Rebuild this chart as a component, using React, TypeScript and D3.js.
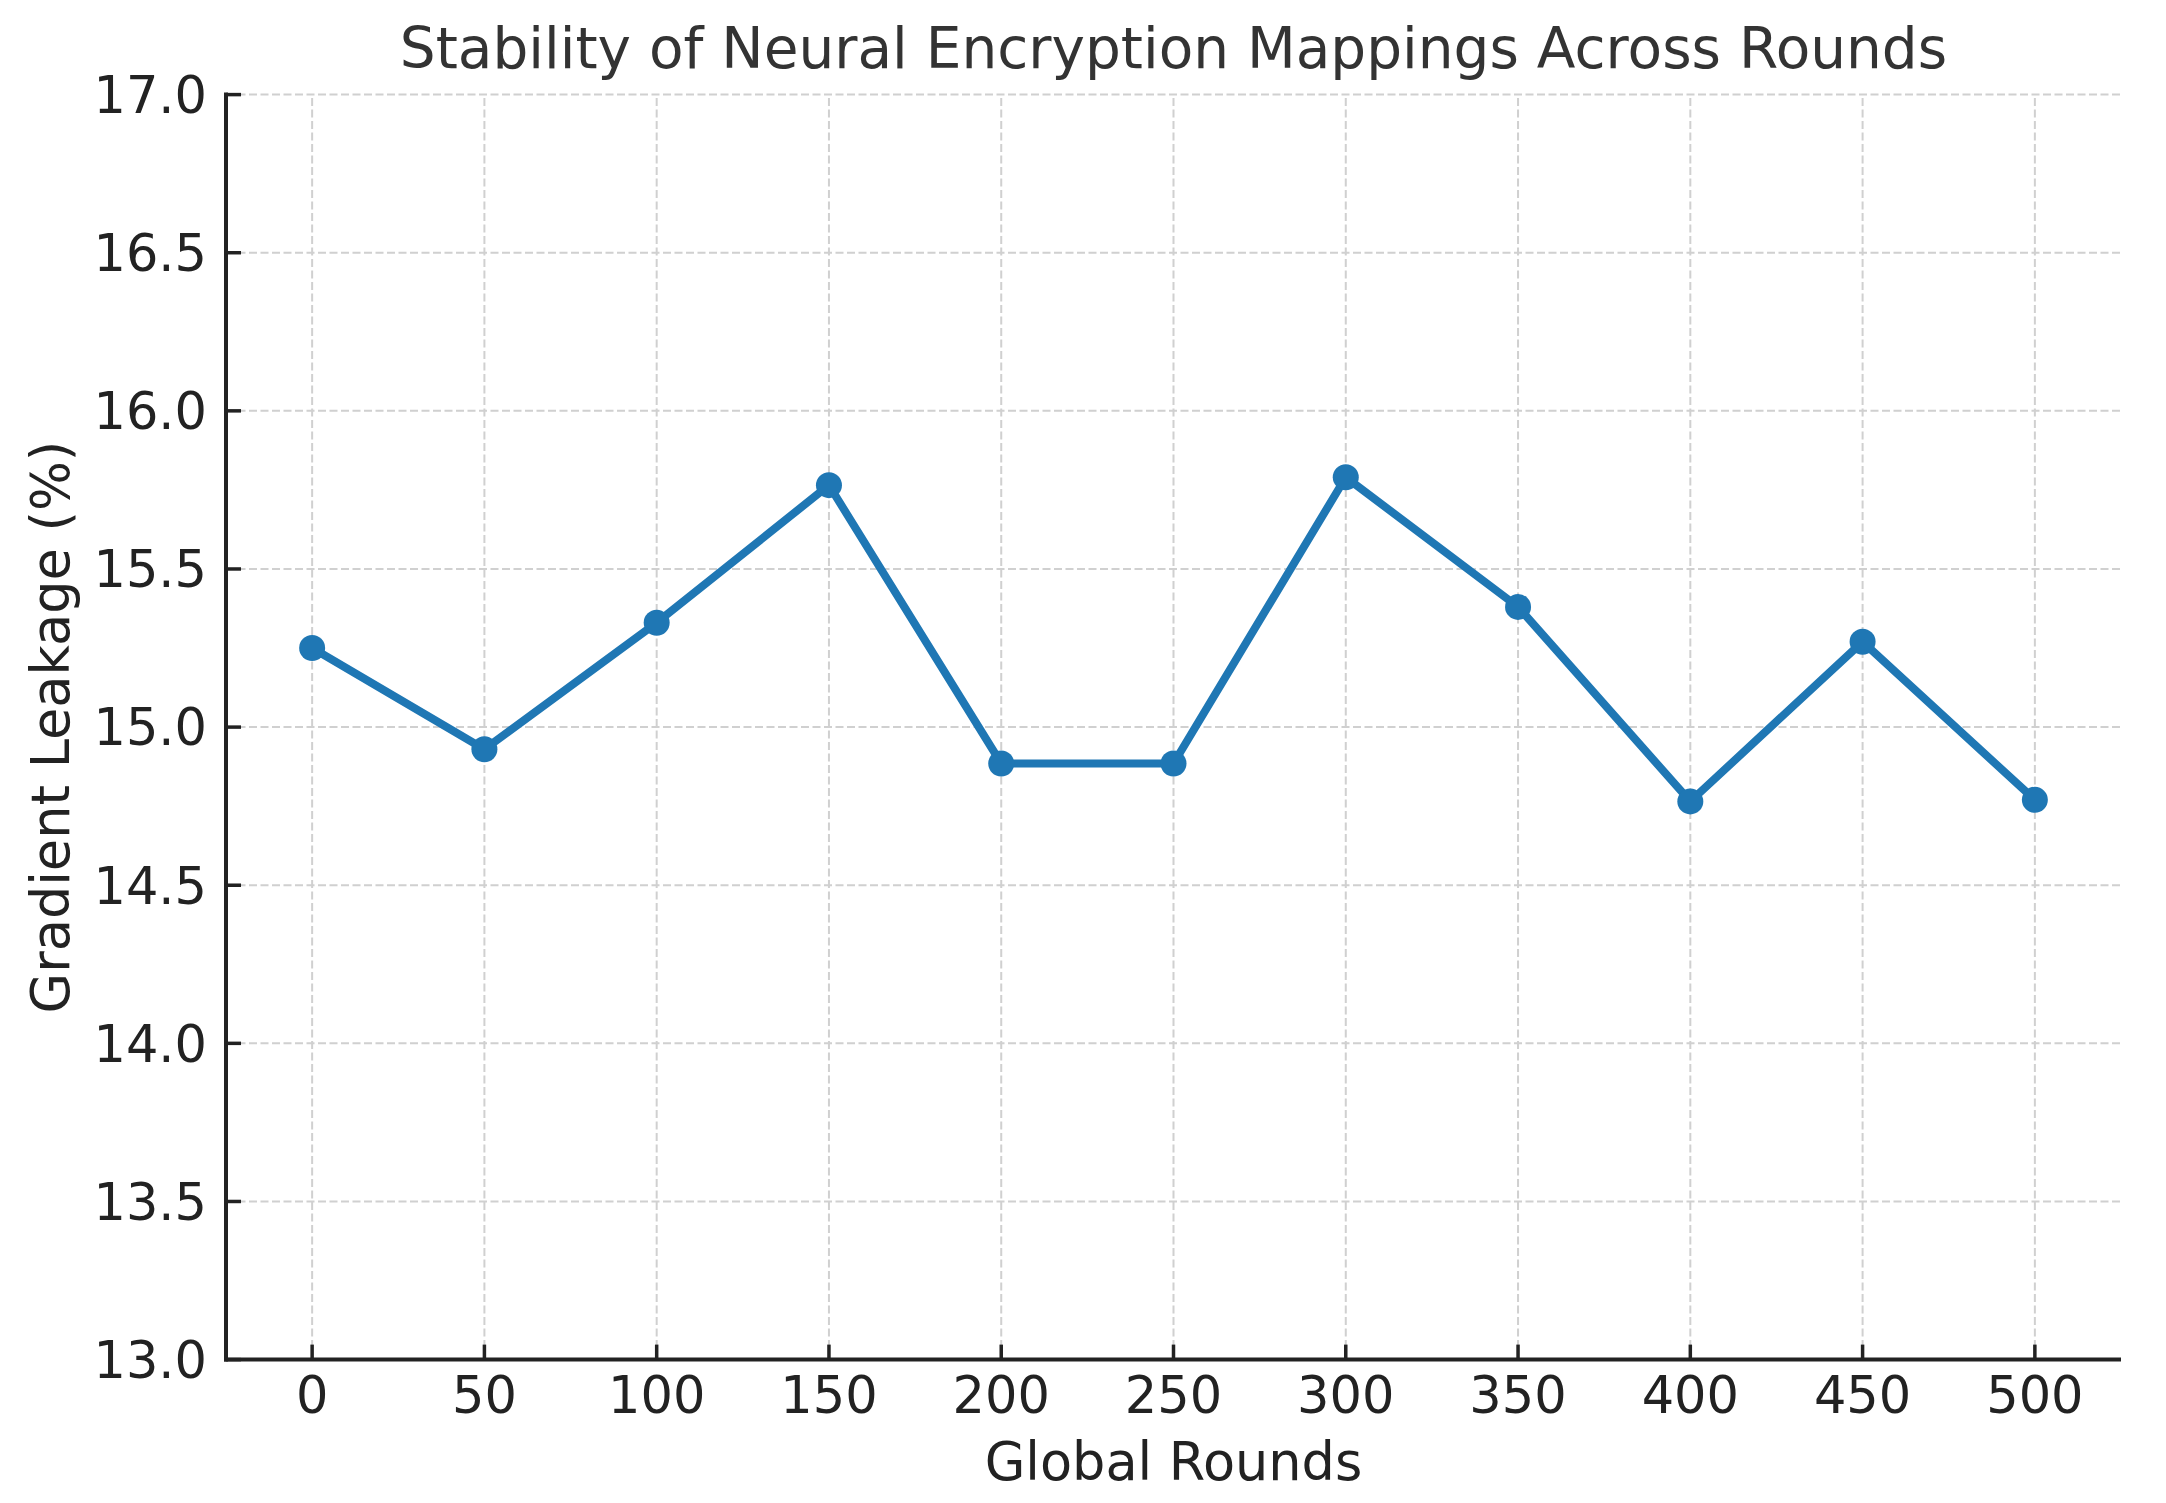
import React, { useEffect } from "react";
import * as d3 from "d3";

const rounds = [0, 50, 100, 150, 200, 250, 300, 350, 400, 450, 500];
const leakage = [15.25, 14.93, 15.33, 15.765, 14.885, 14.885, 15.79, 15.38, 14.765, 15.27, 14.77];
const xTicks = [0, 50, 100, 150, 200, 250, 300, 350, 400, 450, 500];
const yTicks = [13.0, 13.5, 14.0, 14.5, 15.0, 15.5, 16.0, 16.5, 17.0];

const W = 2166;
const H = 1503;
const left = 226;
const right = 2121;
const top = 94.6;
const bottom = 1359.6;

export default function App() {
  useEffect(() => {
    document.body.style.margin = "0";
  }, []);

  const x = d3.scaleLinear().domain([-25, 525]).range([left, right]);
  const y = d3.scaleLinear().domain([13, 17]).range([bottom, top]);
  const line = d3
    .line<number>()
    .x((_, i) => x(rounds[i]))
    .y((d) => y(d));

  const font = "DejaVu Sans, sans-serif";
  const gridColor = "#d0d0d0";
  const axisColor = "#222222";

  return (
    <svg
      width={W}
      height={H}
      style={{ display: "block", position: "absolute", left: 0, top: 0, background: "#fff" }}
      fontFamily={font}
    >
      <rect x={0} y={0} width={W} height={H} fill="#ffffff" />
      {/* grid */}
      <g>
        {xTicks.map((t) => (
          <line
            key={"gx" + t}
            x1={x(t)}
            x2={x(t)}
            y1={bottom}
            y2={top}
            stroke={gridColor}
            strokeWidth={2}
            strokeDasharray="8,3.5"
          />
        ))}
        {yTicks.map((t) => (
          <line
            key={"gy" + t}
            x1={left}
            x2={right}
            y1={y(t)}
            y2={y(t)}
            stroke={gridColor}
            strokeWidth={2}
            strokeDasharray="8,3.5"
          />
        ))}
      </g>
      {/* data */}
      <path
        d={line(leakage) || ""}
        fill="none"
        stroke="#1f77b4"
        strokeWidth={8}
        strokeLinejoin="round"
        strokeLinecap="round"
      />
      {leakage.map((v, i) => (
        <circle key={"p" + i} cx={x(rounds[i])} cy={y(v)} r={13} fill="#1f77b4" />
      ))}
      {/* spines */}
      <line x1={left} x2={left} y1={top - 2} y2={bottom + 2} stroke={axisColor} strokeWidth={4} />
      <line x1={left - 2} x2={right} y1={bottom} y2={bottom} stroke={axisColor} strokeWidth={4} />
      {/* ticks */}
      {xTicks.map((t) => (
        <g key={"xt" + t}>
          <line x1={x(t)} x2={x(t)} y1={bottom} y2={bottom - 15} stroke={axisColor} strokeWidth={3.5} />
          <text
            x={x(t)}
            y={1413}
            textAnchor="middle"
            fontSize={51}
            fill={axisColor}
          >
            {t}
          </text>
        </g>
      ))}
      {yTicks.map((t) => (
        <g key={"yt" + t}>
          <line x1={left} x2={left + 15} y1={y(t)} y2={y(t)} stroke={axisColor} strokeWidth={3.5} />
          <text
            x={207}
            y={y(t)}
            dy="0.36em"
            textAnchor="end"
            fontSize={51}
            fill={axisColor}
          >
            {t.toFixed(1)}
          </text>
        </g>
      ))}
      {/* labels */}
      <text
        x={(left + right) / 2}
        y={68}
        textAnchor="middle"
        fontSize={56.5}
        fill="#333333"
      >
        Stability of Neural Encryption Mappings Across Rounds
      </text>
      <text
        x={(left + right) / 2}
        y={1480}
        textAnchor="middle"
        fontSize={52.5}
        fill={axisColor}
      >
        Global Rounds
      </text>
      <text
        transform={`translate(69, ${(top + bottom) / 2}) rotate(-90)`}
        textAnchor="middle"
        fontSize={52.5}
        fill={axisColor}
      >
        Gradient Leakage (%)
      </text>
    </svg>
  );
}
